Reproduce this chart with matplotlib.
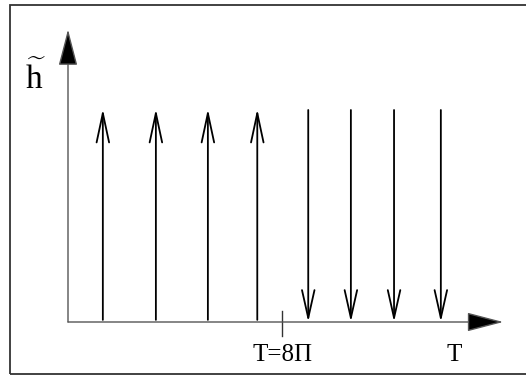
import matplotlib
matplotlib.use('Agg')
import matplotlib.pyplot as plt
import matplotlib.patches as mpatches

# arrow positions along the time axis (arbitrary units), amplitude of each kick
up_t = [0.67, 1.69, 2.69, 3.64]
down_t = [4.62, 5.44, 6.27, 7.17]
amp = [1.0, 1.0, 1.0, 1.0]
tick_t = 4.12
tick_label = 'T=8\u03a0'
x_label = 'T'
y_label = r'$\widetilde{\mathrm{h}}$'
x_end = 8.37
y_end = 1.38

SERIF = ['Liberation Serif', 'DejaVu Serif']
INK = '#000000'

plt.rcParams.update({
    'mathtext.fontset': 'custom',
    'mathtext.rm': 'Liberation Serif',
    'mathtext.it': 'Liberation Serif:italic',
})

fig = plt.figure(figsize=(5.26, 3.75), dpi=100, facecolor='white')
ax = fig.add_axes([68 / 526, 53 / 375, 442 / 526, 1.4 * 212 / 375])
ax.set_xlim(0, 8.5)
ax.set_ylim(0, 1.4)
ax.axis('off')

# outer frame (runs off the right edge)
fig.patches.append(mpatches.Rectangle((10 / 526, 1 / 375), 1.2, 369 / 375,
                                      transform=fig.transFigure, fill=False,
                                      edgecolor='#333333', linewidth=1.3))

# coordinate axes with filled heads
ax.annotate('', xy=(x_end, 0), xytext=(0, 0),
            arrowprops=dict(arrowstyle='-|>,head_length=2.3,head_width=0.6',
                            color='#555555', lw=1.0, shrinkA=0, shrinkB=0,
                            fc=INK, ec='#555555'), annotation_clip=False)
ax.annotate('', xy=(0, y_end), xytext=(0, 0),
            arrowprops=dict(arrowstyle='-|>,head_length=2.3,head_width=0.6',
                            color='#555555', lw=1.0, shrinkA=0, shrinkB=0,
                            fc=INK, ec='#555555'), annotation_clip=False)

# kicks: open V heads
for t, a in zip(up_t, amp):
    ax.annotate('', xy=(t, a + 0.005), xytext=(t, 0.01),
                arrowprops=dict(arrowstyle='->,head_length=2.1,head_width=0.45',
                                color=INK, lw=1.3, shrinkA=0, shrinkB=0))
for t, a in zip(down_t, amp):
    ax.annotate('', xy=(t, 0.0), xytext=(t, a),
                arrowprops=dict(arrowstyle='->,head_length=2.0,head_width=0.45',
                                color=INK, lw=1.3, shrinkA=0, shrinkB=0))

# tick on time axis
ax.plot([tick_t, tick_t], [0.05, -0.065], color='#333333', lw=1.0, clip_on=False)

ax.text(tick_t, -0.155, tick_label, ha='center', va='center', fontsize=18,
        family=SERIF, color=INK)
ax.text(7.43, -0.155, x_label, ha='center', va='center', fontsize=18,
        family=SERIF, color=INK)

# h with tilde
ax.text(-0.63, 1.15, y_label, ha='center', va='center', fontsize=24,
        color=INK, clip_on=False)

fig.savefig('out.png', dpi=100, facecolor='white')
